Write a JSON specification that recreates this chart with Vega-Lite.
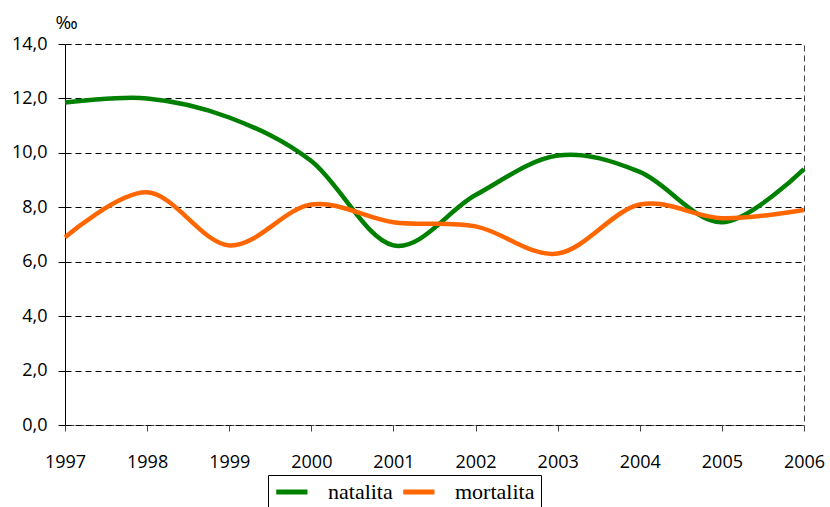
{
  "$schema": "https://vega.github.io/schema/vega-lite/v6.json",
  "autosize": {"type": "none"},
  "padding": {"left": 65, "top": 44, "right": 26, "bottom": 82},
  "width": 739,
  "height": 381,
  "config": {
    "view": {"stroke": "#444", "strokeDash": [6, 4], "strokeWidth": 1},
    "axis": {"labelFont": "Open Sans", "titleFont": "Open Sans"},
    "legend": {"labelFont": "Liberation Serif"}
  },
  "data": {
    "values": [
      {"year": 1997, "series": "natalita", "value": 11.85},
      {"year": 1998, "series": "natalita", "value": 12.0},
      {"year": 1999, "series": "natalita", "value": 11.3},
      {"year": 2000, "series": "natalita", "value": 9.7},
      {"year": 2001, "series": "natalita", "value": 6.6},
      {"year": 2002, "series": "natalita", "value": 8.45},
      {"year": 2003, "series": "natalita", "value": 9.9},
      {"year": 2004, "series": "natalita", "value": 9.3},
      {"year": 2005, "series": "natalita", "value": 7.45},
      {"year": 2006, "series": "natalita", "value": 9.4},
      {"year": 1997, "series": "mortalita", "value": 6.9},
      {"year": 1998, "series": "mortalita", "value": 8.55},
      {"year": 1999, "series": "mortalita", "value": 6.6},
      {"year": 2000, "series": "mortalita", "value": 8.1},
      {"year": 2001, "series": "mortalita", "value": 7.45},
      {"year": 2002, "series": "mortalita", "value": 7.3},
      {"year": 2003, "series": "mortalita", "value": 6.3},
      {"year": 2004, "series": "mortalita", "value": 8.1},
      {"year": 2005, "series": "mortalita", "value": 7.6},
      {"year": 2006, "series": "mortalita", "value": 7.9}
    ]
  },
  "mark": {"type": "line", "interpolate": "cardinal", "tension": 0, "strokeWidth": 4.5},
  "encoding": {
    "x": {
      "field": "year",
      "type": "quantitative",
      "scale": {"domain": [1997, 2006], "nice": false, "zero": false},
      "axis": {
        "values": [1997, 1998, 1999, 2000, 2001, 2002, 2003, 2004, 2005, 2006],
        "format": "d",
        "title": null,
        "grid": false,
        "domain": false,
        "ticks": true,
        "tickColor": "#444",
        "tickSize": 6,
        "labelFontSize": 18,
        "labelColor": "#000",
        "labelPadding": 22,
        "labelFlush": false
      }
    },
    "y": {
      "field": "value",
      "type": "quantitative",
      "scale": {"domain": [0, 14], "nice": false},
      "axis": {
        "values": [0, 2, 4, 6, 8, 10, 12, 14],
        "labelExpr": "replace(format(datum.value, '.1f'), '.', ',')",
        "title": "‰",
        "titleAngle": 0,
        "titleX": -10,
        "titleY": -16,
        "titleAlign": "left",
        "titleBaseline": "alphabetic",
        "titleFontSize": 19,
        "titleFontWeight": "normal",
        "titleColor": "#000",
        "grid": true,
        "gridColor": "#000",
        "gridDash": [6, 4],
        "gridWidth": 1,
        "domainColor": "#000",
        "domainWidth": 1,
        "tickColor": "#000",
        "tickSize": 7,
        "labelFontSize": 18,
        "labelColor": "#000",
        "labelPadding": 11
      }
    },
    "color": {
      "field": "series",
      "type": "nominal",
      "scale": {"domain": ["natalita", "mortalita"], "range": ["#008000", "#ff6600"]},
      "legend": {
        "title": null,
        "orient": "none",
        "direction": "horizontal",
        "legendX": 203,
        "legendY": 431,
        "symbolType": "M-1.4,0L3.6,0",
        "symbolSize": 156,
        "symbolStrokeWidth": 5,
        "labelFont": "Liberation Serif",
        "labelFontSize": 22,
        "labelColor": "#000",
        "labelOffset": 32,
        "columnPadding": 0,
        "strokeColor": "#000",
        "padding": 6,
        "fillColor": "#fff"
      }
    }
  }
}
